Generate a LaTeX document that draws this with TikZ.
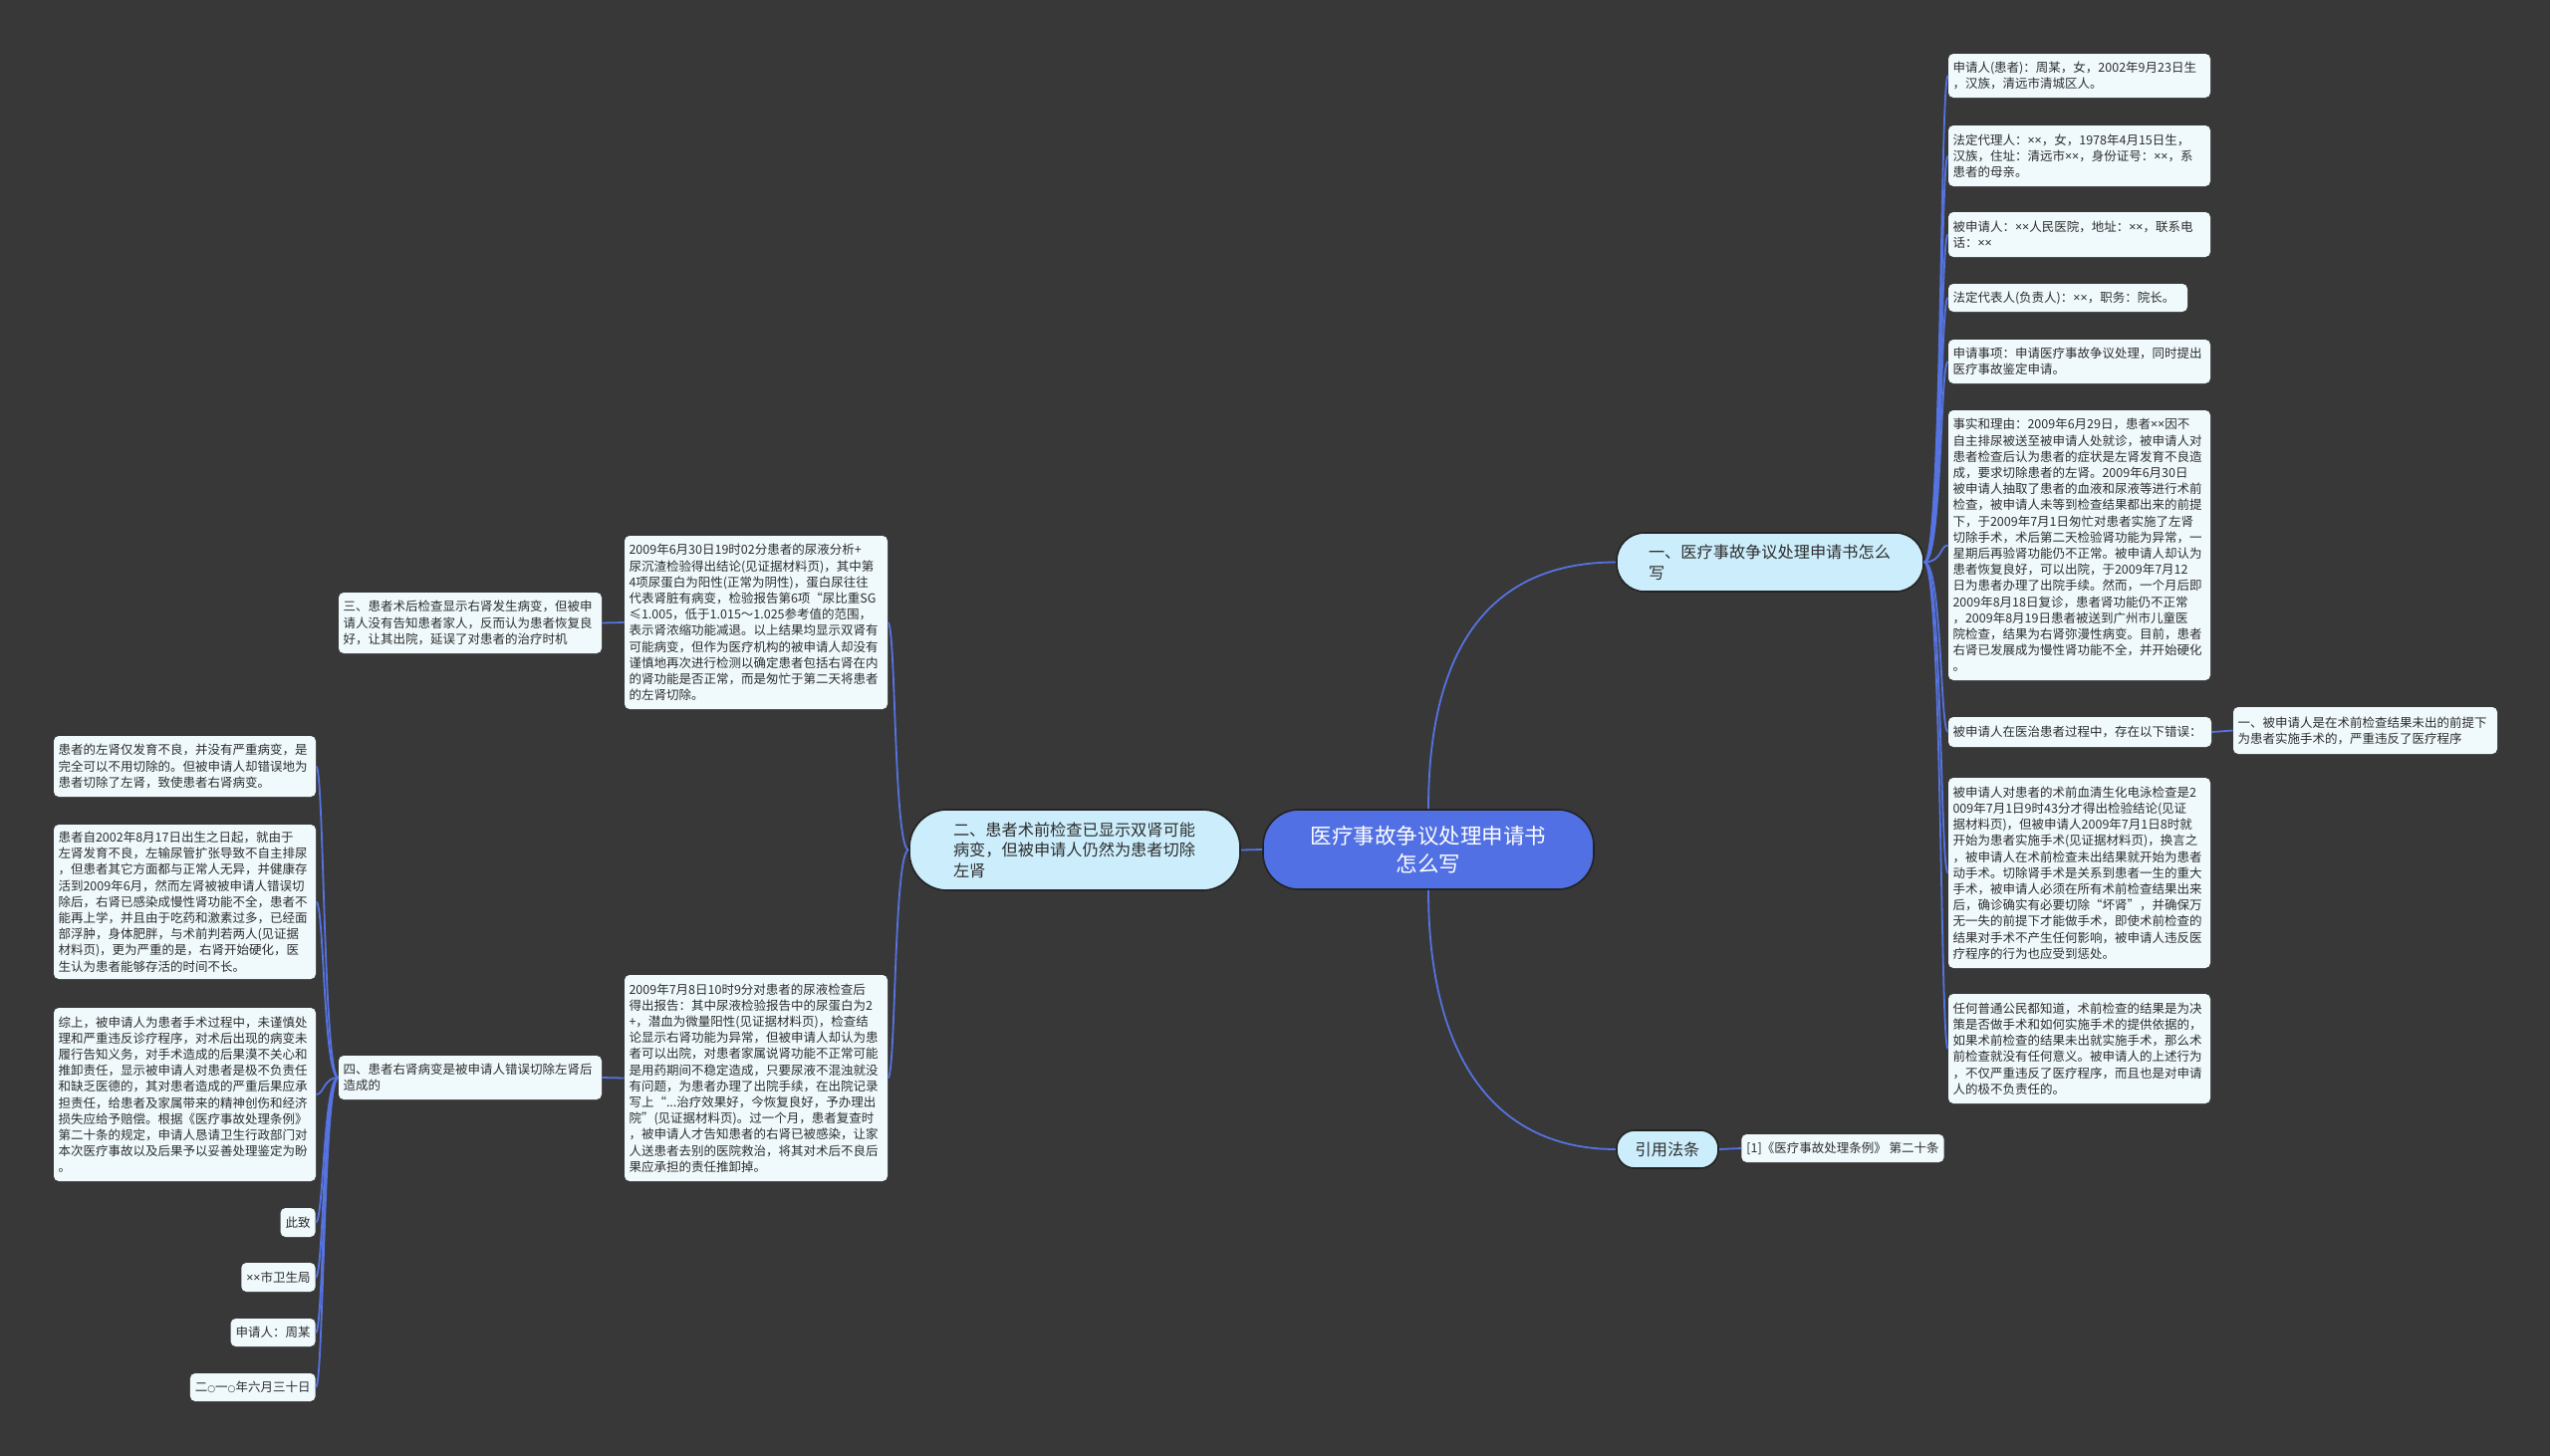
\documentclass[tikz,border=0pt]{standalone}
\usepackage{fontspec}
\setmainfont{Noto Sans CJK SC}
\newfontfamily\latx{Noto Sans}
\newfontfamily\djv{DejaVu Sans}
\newcommand\xx{{\latx ×}}
\newcommand\smo{{\djv\fontsize{4.5pt}{8.1pt}\selectfont ○}}
\definecolor{bgc}{RGB}{56,56,56}
\definecolor{linec}{RGB}{85,115,225}
\definecolor{rootc}{RGB}{80,112,228}
\definecolor{branchc}{RGB}{204,238,252}
\definecolor{leafc}{RGB}{240,250,253}
\definecolor{txtc}{RGB}{45,45,45}
\definecolor{brdc}{RGB}{35,35,35}
\newcommand\lffont{\fontsize{6.25pt}{8.1pt}\selectfont}
\newcommand\brfont{\fontsize{8.1pt}{10.25pt}\selectfont}
\newcommand\rtfont{\fontsize{10.75pt}{14pt}\selectfont}
\tikzset{
  conn/.style={draw=linec, line width=0.9pt},
  leaf/.style={fill=leafc, text=txtc, rounded corners=2.5pt, font=\lffont, inner xsep=2.25pt, inner ysep=0pt, align=left, text width=#1},
  leaf/.default=127pt,
  sleaf/.style={fill=leafc, text=txtc, rounded corners=2.5pt, font=\lffont, inner xsep=2.5pt, inner ysep=0pt},
  branch/.style={fill=branchc, text=txtc, draw=brdc, line width=0.8pt, font=\brfont, inner ysep=0pt},
  rootnode/.style={fill=rootc, text=white, draw=brdc, line width=0.8pt, font=\rtfont, align=center, inner ysep=0pt, minimum width=166pt, minimum height=40pt, rounded corners=18pt}
}
\begin{document}
\begin{tikzpicture}[x=0.5pt,y=-0.5pt]
\fill[bgc] (0,0) rectangle (2560,1462);
\useasboundingbox (0,0) rectangle (2560,1462);

% root and branches
\node[rootnode] (C) at (1434,853) {医疗事故争议处理申请书\\怎么写};
\node[branch, align=left, text width=122pt, inner xsep=16pt, minimum height=29.5pt, rounded corners=14pt] (B1) at (1777,564.5) {一、医疗事故争议处理申请书怎么\\写};
\node[branch, align=left, text width=122pt, inner xsep=22pt, minimum height=40.5pt, rounded corners=19pt] (B2) at (1079,853.5) {二、患者术前检查已显示双肾可能\\病变，但被申请人仍然为患者切除\\左肾};
\node[branch, align=center, minimum width=51pt, minimum height=19pt, rounded corners=9pt] (R) at (1674,1154) {引用法条};
\node[sleaf, anchor=west, minimum height=14pt] (RF) at (1748,1153) {[1]《医疗事故处理条例》 第二十条};

% right column
\node[leaf, minimum height=22pt] (r1) at (2087.5,76) {申请人(患者)：周某，女，2002年9月23日生\\，汉族，清远市清城区人。};
\node[leaf, minimum height=30.5pt] (r2) at (2087.5,156.5) {法定代理人：\xx{}\xx{}，女，1978年4月15日生，\\汉族，住址：清远市\xx{}\xx{}，身份证号：\xx{}\xx{}，系\\患者的母亲。};
\node[leaf, minimum height=22.5pt] (r3) at (2087.5,235.5) {被申请人：\xx{}\xx{}人民医院，地址：\xx{}\xx{}，联系电\\话：\xx{}\xx{}};
\node[leaf=115.5pt, minimum height=14pt] (r4) at (2076,299) {法定代表人(负责人)：\xx{}\xx{}，职务：院长。};
\node[leaf, minimum height=22pt] (r5) at (2087.5,363) {申请事项：申请医疗事故争议处理，同时提出\\医疗事故鉴定申请。};
\node[leaf, minimum height=135.5pt] (r6) at (2087.5,547.5) {事实和理由：2009年6月29日，患者\xx{}\xx{}因不\\自主排尿被送至被申请人处就诊，被申请人对\\患者检查后认为患者的症状是左肾发育不良造\\成，要求切除患者的左肾。2009年6月30日\\被申请人抽取了患者的血液和尿液等进行术前\\检查，被申请人未等到检查结果都出来的前提\\下，于2009年7月1日匆忙对患者实施了左肾\\切除手术，术后第二天检验肾功能为异常，一\\星期后再验肾功能仍不正常。被申请人却认为\\患者恢复良好，可以出院，于2009年7月12\\日为患者办理了出院手续。然而，一个月后即\\2009年8月18日复诊，患者肾功能仍不正常\\，2009年8月19日患者被送到广州市儿童医\\院检查，结果为右肾弥漫性病变。目前，患者\\右肾已发展成为慢性肾功能不全，并开始硬化\\。};
\node[leaf=127.5pt, minimum height=15pt] (r7) at (2088,735) {被申请人在医治患者过程中，存在以下错误：};
\node[leaf=128pt, minimum height=23.5pt] (r7x) at (2374.5,733.5) {一、被申请人是在术前检查结果未出的前提下\\为患者实施手术的，严重违反了医疗程序};
\node[leaf, minimum height=95.5pt] (r8) at (2087.5,876.5) {被申请人对患者的术前血清生化电泳检查是2\\009年7月1日9时43分才得出检验结论(见证\\据材料页)，但被申请人2009年7月1日8时就\\开始为患者实施手术(见证据材料页)，换言之\\，被申请人在术前检查未出结果就开始为患者\\动手术。切除肾手术是关系到患者一生的重大\\手术，被申请人必须在所有术前检查结果出来\\后，确诊确实有必要切除“坏肾”，并确保万\\无一失的前提下才能做手术，即使术前检查的\\结果对手术不产生任何影响，被申请人违反医\\疗程序的行为也应受到惩处。};
\node[leaf, minimum height=55pt] (r9) at (2087.5,1053) {任何普通公民都知道，术前检查的结果是为决\\策是否做手术和如何实施手术的提供依据的，\\如果术前检查的结果未出就实施手术，那么术\\前检查就没有任何意义。被申请人的上述行为\\，不仅严重违反了医疗程序，而且也是对申请\\人的极不负责任的。};

% middle column
\node[leaf=127.5pt, minimum height=87pt] (m1) at (759,625) {2009年6月30日19时02分患者的尿液分析+\\尿沉渣检验得出结论(见证据材料页)，其中第\\4项尿蛋白为阳性(正常为阴性)，蛋白尿往往\\代表肾脏有病变，检验报告第6项“尿比重SG\\≤1.005，低于1.015～1.025参考值的范围，\\表示肾浓缩功能减退。以上结果均显示双肾有\\可能病变，但作为医疗机构的被申请人却没有\\谨慎地再次进行检测以确定患者包括右肾在内\\的肾功能是否正常，而是匆忙于第二天将患者\\的左肾切除。};
\node[leaf=127.5pt, minimum height=103.5pt] (m2) at (759,1082.5) {2009年7月8日10时9分对患者的尿液检查后\\得出报告：其中尿液检验报告中的尿蛋白为2\\+，潜血为微量阳性(见证据材料页)，检查结\\论显示右肾功能为异常，但被申请人却认为患\\者可以出院，对患者家属说肾功能不正常可能\\是用药期间不稳定造成，只要尿液不混浊就没\\有问题，为患者办理了出院手续，在出院记录\\写上“...治疗效果好，今恢复良好，予办理出\\院”(见证据材料页)。过一个月，患者复查时\\，被申请人才告知患者的右肾已被感染，让家\\人送患者去别的医院救治，将其对术后不良后\\果应承担的责任推卸掉。};

% left column
\node[leaf=127.5pt, minimum height=30.5pt] (l3) at (472,625.5) {三、患者术后检查显示右肾发生病变，但被申\\请人没有告知患者家人，反而认为患者恢复良\\好，让其出院，延误了对患者的治疗时机};
\node[leaf=127.5pt, minimum height=22pt] (l4) at (472,1082) {四、患者右肾病变是被申请人错误切除左肾后\\造成的};

% far left column
\node[leaf, minimum height=30.5pt] (f1) at (185.5,769.5) {患者的左肾仅发育不良，并没有严重病变，是\\完全可以不用切除的。但被申请人却错误地为\\患者切除了左肾，致使患者右肾病变。};
\node[leaf, minimum height=77.5pt] (f2) at (185.5,905.5) {患者自2002年8月17日出生之日起，就由于\\左肾发育不良，左输尿管扩张导致不自主排尿\\，但患者其它方面都与正常人无异，并健康存\\活到2009年6月，然而左肾被被申请人错误切\\除后，右肾已感染成慢性肾功能不全，患者不\\能再上学，并且由于吃药和激素过多，已经面\\部浮肿，身体肥胖，与术前判若两人(见证据\\材料页)，更为严重的是，右肾开始硬化，医\\生认为患者能够存活的时间不长。};
\node[leaf, minimum height=87pt] (f3) at (185.5,1099) {综上，被申请人为患者手术过程中，未谨慎处\\理和严重违反诊疗程序，对术后出现的病变未\\履行告知义务，对手术造成的后果漠不关心和\\推卸责任，显示被申请人对患者是极不负责任\\和缺乏医德的，其对患者造成的严重后果应承\\担责任，给患者及家属带来的精神创伤和经济\\损失应给予赔偿。根据《医疗事故处理条例》\\第二十条的规定，申请人恳请卫生行政部门对\\本次医疗事故以及后果予以妥善处理鉴定为盼\\。};
\node[sleaf, anchor=east, minimum height=14.5pt] (f4) at (317,1227.5) {此致};
\node[sleaf, anchor=east, minimum height=14.5pt] (f5) at (317,1282.5) {\xx{}\xx{}市卫生局};
\node[sleaf, anchor=east, minimum height=14pt] (f6) at (317,1338) {申请人：周某};
\node[sleaf, anchor=east, minimum height=14pt] (f7) at (317,1393) {二\smo{}一\smo{}年六月三十日};

% connectors
\draw[conn] (C.north) .. controls +(0,-170) and +(-120,0) .. (B1.west);
\draw[conn] (C.south) .. controls +(0,170) and +(-120,0) .. (R.west);
\draw[conn] (C.west) -- (B2.east);
\foreach \n in {r1,r2,r3,r4,r5,r6,r7,r8,r9}
  \draw[conn] (B1.east) .. controls +(18,0) and +(-8,0) .. (\n.west);
\draw[conn] (r7.east) -- (r7x.west);
\draw[conn] (R.east) -- (RF.west);
\foreach \n in {m1,m2}
  \draw[conn] (B2.west) .. controls +(-15,0) and +(8,0) .. (\n.east);
\draw[conn] (m1.west) -- (l3.east);
\draw[conn] (m2.west) -- (l4.east);
\foreach \n in {f1,f2,f3,f4,f5,f6,f7}
  \draw[conn] (l4.west) .. controls +(-15,0) and +(8,0) .. (\n.east);
\end{tikzpicture}
\end{document}
